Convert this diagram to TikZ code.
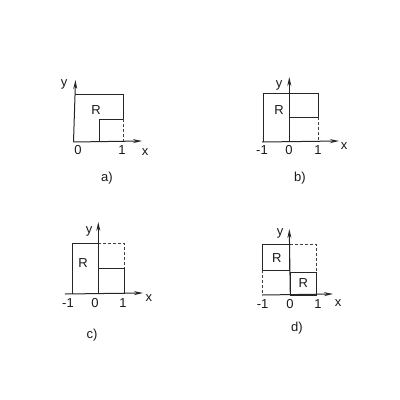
\documentclass[tikz,border=0pt]{standalone}
\usepackage{fontspec}
\setmainfont{Liberation Sans}
\usetikzlibrary{arrows.meta}
\begin{document}
\begin{tikzpicture}[x=1pt,y=-1pt,
  ln/.style={draw=black!85,line width=1pt},
  dsh/.style={draw=black!75,line width=1pt,dash pattern=on 3pt off 2pt},
  ax/.style={draw=black!85,line width=1pt,-{Stealth[length=9pt,width=4pt]}},
  lbl/.style={font=\fontsize{13}{15}\selectfont,inner sep=0pt,text=black!90}]
\useasboundingbox[fill=white] (0,0) rectangle (400,400);
% ---------- a)
\coordinate (aO) at (73.5,142);
\coordinate (aY) at (75.5,80);
\coordinate (aX) at (142,141);
\draw[ln] (75,94) -- (123.3,94) -- (123.3,119.3) -- (99.5,119.3) -- (99.5,142);
\draw[dsh] (123.3,119.3) -- (123.3,142);
\draw[ax] (aO) -- (aY);
\draw[ax] (aO) -- (aX);
\node[lbl] (aR) at (96,110) {R};
\node[lbl] (ay) at (64,84) {y};
\node[lbl] (a0) at (78,150) {0};
\node[lbl] (a1) at (122,150) {1};
\node[lbl] (ax) at (145,152) {x};
\node[lbl] (acap) at (107,178) {a)};
% ---------- b)
\coordinate (bO) at (289.3,142);
\coordinate (bY) at (289.3,77);
\coordinate (bL) at (262,142);
\coordinate (bX) at (339,141);
\draw[ln] (263,142) -- (263,93) -- (318,93) -- (318,117) -- (289.3,117);
\draw[dsh] (318,117) -- (318,142);
\draw[ax] (bO) -- (bY);
\draw[ax] (bL) -- (bX);
\node[lbl] (bR) at (279,110) {R};
\node[lbl] (by) at (279,85) {y};
\node[lbl] (bm1) at (262,150) {-1};
\node[lbl] (b0) at (289,150) {0};
\node[lbl] (b1) at (318,150) {1};
\node[lbl] (bx) at (344,146) {x};
\node[lbl] (bcap) at (300,178) {b)};
% ---------- c)
\coordinate (cO) at (98.3,294);
\coordinate (cY) at (98.3,222);
\coordinate (cL) at (65,294);
\coordinate (cX) at (143,293);
\draw[ln] (72.5,294) -- (72.5,243) -- (98.3,243);
\draw[ln] (98.3,268) -- (124,268) -- (124,294);
\draw[dsh] (98.3,243) -- (124,243) -- (124,268);
\draw[ax] (cO) -- (cY);
\draw[ax] (cL) -- (cX);
\node[lbl] (cR) at (83,263) {R};
\node[lbl] (cy) at (89,231) {y};
\node[lbl] (cm1) at (68,303) {-1};
\node[lbl] (c0) at (95,303) {0};
\node[lbl] (c1) at (123,303) {1};
\node[lbl] (cx) at (149,298) {x};
\node[lbl] (ccap) at (92,335) {c)};
% ---------- d)
\coordinate (dO) at (290.3,295);
\coordinate (dY) at (289.3,229);
\coordinate (dL) at (262,295);
\coordinate (dX) at (333,294);
\draw[ln] (262.3,270) rectangle (289.5,244.3);
\draw[ln] (290.3,272.3) rectangle (316,295);
\draw[dsh] (289.5,244.3) -- (316,244.3) -- (316,272.3);
\draw[dsh] (262.3,270) -- (262.3,295);
\draw[ax] (dO) -- (dY);
\draw[ax] (dL) -- (dX);
\node[lbl] (dR1) at (276.7,258.3) {R};
\node[lbl] (dR2) at (303.3,283.3) {R};
\node[lbl] (dy) at (280,233) {y};
\node[lbl] (dm1) at (262.7,304) {-1};
\node[lbl] (d0) at (290,304) {0};
\node[lbl] (d1) at (318,304) {1};
\node[lbl] (dx) at (338,303) {x};
\node[lbl] (dcap) at (297,328) {d)};
\end{tikzpicture}
\end{document}
